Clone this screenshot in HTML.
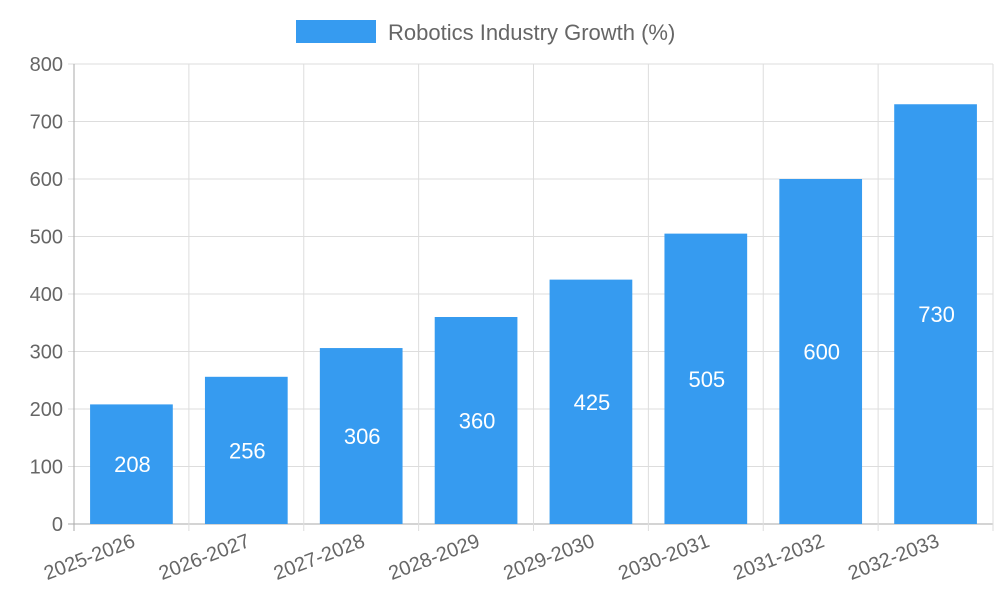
<!DOCTYPE html>
<html><head><meta charset="utf-8"><style>body{margin:0;background:#fff}svg{display:block;font-family:"Liberation Sans",sans-serif}</style></head>
<body>
<svg id="chart" width="1000" height="600">
<g>
<rect x="296" y="20" width="80" height="23" fill="#369bf0"/>
<text x="388" y="40" font-size="22" fill="#666">Robotics Industry Growth (%)</text>
</g>
<g id="grid"></g><g id="bars"></g><g id="labels"></g>
</svg>
<script>
const categories=["2025-2026","2026-2027","2027-2028","2028-2029","2029-2030","2030-2031","2031-2032","2032-2033"];
const values=[208,256,306,360,425,505,600,730];
const yTicks=[0,100,200,300,400,500,600,700,800];
const X0=74,X1=993,Y0=524,Y1=64,YMAX=800;
const ns="http://www.w3.org/2000/svg";
const bw=(X1-X0)/categories.length;
const y=v=>Y0-(v/YMAX)*(Y0-Y1);
const xc=i=>X0+bw*(i+0.5);
function mk(p,t,a){const e=document.createElementNS(ns,t);for(const k in a)e.setAttribute(k,a[k]);p.appendChild(e);return e;}
const g=document.getElementById('grid'),b=document.getElementById('bars'),l=document.getElementById('labels');
yTicks.forEach(t=>{
 const ln=mk(g,'line',{x1:68,x2:X1,y1:y(t),y2:y(t),stroke:t===0?'#aaa':'#ddd','stroke-width':1});
 
 
 const tx=mk(g,'text',{x:63,y:y(t)+7,'text-anchor':'end','font-size':20,fill:'#666'});
 tx.textContent=t;
 
 
});
for(let i=0;i<=categories.length;i++){
 const x=X0+bw*i;
 const ln=mk(g,'line',{x1:x,x2:x,y1:Y1,y2:531,stroke:i===0?'#aaa':'#ddd','stroke-width':1});
 
 
}
categories.forEach((c,i)=>{
 const w=bw*0.72;
 const r=mk(b,'rect',{x:xc(i)-w/2,y:y(values[i]),width:w,height:Y0-y(values[i]),fill:'#369bf0'});
 
 
 const v=mk(l,'text',{x:xc(i)+1,y:(y(values[i])+Y0)/2+8,'text-anchor':'middle','font-size':22,fill:'#fff'});
 v.textContent=values[i];
 
 
 const t=mk(l,'text',{'text-anchor':'end','font-size':20,fill:'#666',transform:`translate(${xc(i)+5},${546}) rotate(-21)`});
 t.textContent=c;
 
 
});
</script>
</body></html>
